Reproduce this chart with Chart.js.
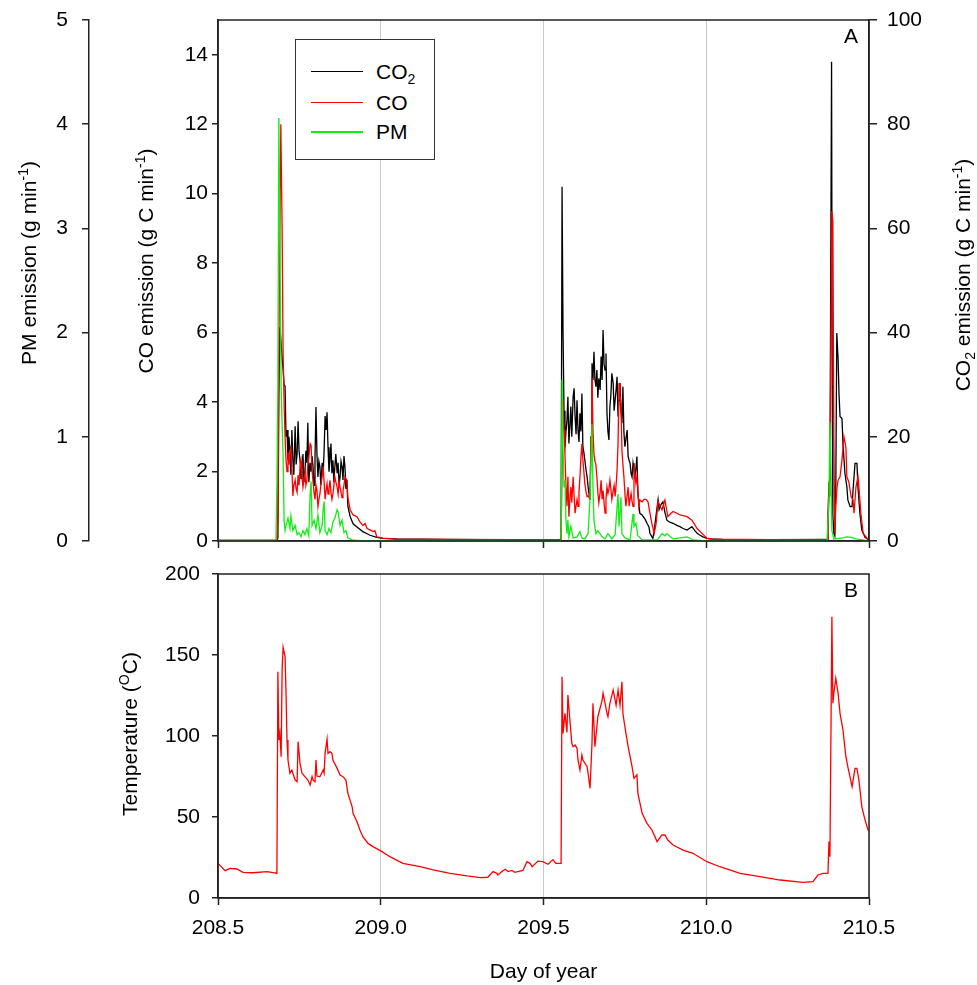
<!DOCTYPE html>
<html>
<head>
<meta charset="utf-8">
<script src="https://cdn.jsdelivr.net/npm/chart.js@4.4.1/dist/chart.umd.min.js"></script>
<style>
  html, body { margin: 0; padding: 0; background: #fff; }
  #wrap { position: relative; width: 977px; height: 985px; font-family: "Liberation Sans", Arial, sans-serif; }
  #top { position: absolute; left: 0; top: 0; }
  #bottom { position: absolute; left: 0; top: 560px; }
  #legend { position: absolute; left: 295px; top: 39px; width: 138px; height: 119px; border: 1.5px solid #333; background: #fff; }
  #legend .row { position: absolute; left: 0; right: 0; height: 0; }
  #legend .swatch { position: absolute; left: 15px; width: 52px; }
  #legend .name { position: absolute; left: 80px; top: -13px; font-size: 21px; line-height: 26px; color: #000; white-space: nowrap; }
  #legend sub { font-size: 14px; vertical-align: -5px; line-height: 0; }
</style>
</head>
<body>
<div id="wrap">
  <canvas id="top" width="977" height="560"></canvas>
  <canvas id="bottom" width="977" height="425"></canvas>
  <div id="legend"></div>
</div>
<script>
// tick values
const dayTicks = [208.5, 209.0, 209.5, 210.0, 210.5];
const pmTicks = [0, 1, 2, 3, 4, 5];
const coTicks = [0, 2, 4, 6, 8, 10, 12, 14];
const co2Ticks = [0, 20, 40, 60, 80, 100];
const tempTicks = [0, 50, 100, 150, 200];

const seriesNames = ['CO2', 'CO', 'PM'];

// [day of year, CO2 emission g C/min]
const co2Points = [
  [208.500,0.1],[208.600,0.1],[208.681,0.1],[208.684,0.6],[208.687,28],[208.690,41],[208.694,38],[208.697,35],
  [208.700,33],[208.703,30],[208.706,29.7],[208.709,20],[208.712,21.3],[208.715,15.5],[208.718,20],[208.721,17.3],
  [208.724,12.7],[208.727,21.3],[208.730,15.5],[208.733,12.7],[208.737,22],[208.740,14.7],[208.743,16.7],[208.746,23],
  [208.749,17.3],[208.752,15.5],[208.755,12],[208.758,13.7],[208.761,16.7],[208.764,11.3],[208.767,13],[208.770,17.3],
  [208.773,15],[208.776,22.7],[208.779,11.3],[208.783,15],[208.786,13.3],[208.789,16.3],[208.792,14.3],[208.795,10.7],
  [208.798,16],[208.801,25.7],[208.804,16.7],[208.807,12.3],[208.810,15.3],[208.813,14.3],[208.816,10.7],[208.820,15],
  [208.823,13],[208.826,17.3],[208.829,24],[208.832,21.3],[208.835,24.7],[208.838,18],[208.841,13.3],[208.844,15.5],
  [208.847,18.7],[208.850,13],[208.853,15.5],[208.856,11.3],[208.859,14.3],[208.862,16.7],[208.866,13],[208.869,15],
  [208.872,10.7],[208.875,12.3],[208.878,15.3],[208.881,14.3],[208.884,11.7],[208.887,16.3],[208.890,14.3],[208.893,10],
  [208.896,11.7],[208.899,6.7],[208.906,4.7],[208.915,3.3],[208.927,2.7],[208.945,1.8],[208.967,1.1],[208.988,0.7],
  [209.007,0.5],[209.050,0.4],[209.200,0.3],[209.400,0.25],[209.554,0.3],
  [209.557,68],[209.560,40],[209.563,25],[209.566,18],[209.569,21],[209.572,23],[209.575,27.7],[209.578,18.7],
  [209.581,22],[209.584,25.8],[209.587,20],[209.591,27.7],[209.594,29.3],[209.597,23.9],[209.600,20.5],[209.603,27],
  [209.606,21.3],[209.609,19],[209.612,24.5],[209.615,21],[209.618,28.3],[209.621,18.1],[209.624,17],[209.627,15.5],
  [209.631,13.5],[209.634,12.3],[209.637,10.4],[209.640,9],[209.643,7.9],[209.646,20],[209.649,34.1],[209.652,30.9],
  [209.655,36.3],[209.658,31],[209.661,29.6],[209.664,32.8],[209.667,27.5],[209.670,31.2],[209.674,29],[209.677,35.4],
  [209.680,30.9],[209.683,40.5],[209.686,34],[209.689,32.8],[209.692,36],[209.695,24.5],[209.698,21],[209.701,19.4],
  [209.704,25.8],[209.707,28],[209.710,32.2],[209.714,30.3],[209.717,25],[209.720,27],[209.723,29],[209.726,31.5],
  [209.729,23.9],[209.732,27],[209.735,30.3],[209.738,25],[209.741,22.6],[209.744,29.6],[209.747,21],[209.750,18.1],
  [209.753,19.5],[209.757,21.3],[209.760,16.2],[209.763,15.5],[209.766,14.9],[209.769,13],[209.772,12.3],[209.775,14.9],
  [209.778,13.5],[209.781,12.3],[209.784,14],[209.787,16.2],[209.790,9.1],[209.793,7],[209.796,5.3],[209.803,5],
  [209.806,4.7],[209.812,4.2],[209.818,3.4],[209.824,2.7],[209.827,1.5],[209.833,0.8],[209.836,0.5],[209.840,2],
  [209.846,5],[209.852,7.9],[209.855,6],[209.861,7],[209.867,7.5],[209.873,5.5],[209.879,4],[209.888,3.6],
  [209.898,3.4],[209.910,3],[209.919,2.75],[209.929,2.4],[209.941,2.1],[209.950,2.5],[209.956,2.75],[209.965,2],
  [209.972,1.5],[209.981,1.1],[209.990,0.8],[210.002,0.5],[210.011,0.4],[210.050,0.3],[210.200,0.25],[210.371,0.3],
  [210.374,5],[210.377,11],[210.380,12],[210.383,60],[210.385,92],[210.387,30],[210.389,5],[210.392,1.5],
  [210.395,1],[210.398,10],[210.401,39.9],[210.405,35],[210.408,28],[210.411,23.9],[210.417,23.5],[210.420,18.7],
  [210.426,13],[210.432,10.4],[210.435,7.9],[210.442,6.6],[210.448,6.6],[210.451,9.8],[210.457,14.9],[210.463,14.9],
  [210.466,10.4],[210.472,5.3],[210.478,2.1],[210.488,0.7],[210.497,0.3],[210.500,0.3]
];

// [day of year, CO emission g C/min]
const coPoints = [
  [208.500,0.02],[208.681,0.02],[208.684,0.8],[208.687,5.5],[208.693,12.0],[208.697,9.0],[208.700,5.4],[208.703,4.0],
  [208.706,3.0],[208.709,2.33],[208.712,2.0],[208.715,2.55],[208.718,2.2],[208.721,2.5],[208.724,2.75],[208.727,2.1],
  [208.730,1.3],[208.733,1.6],[208.737,1.75],[208.740,1.5],[208.743,1.4],[208.746,1.9],[208.749,1.6],[208.752,2.1],
  [208.755,2.3],[208.758,1.85],[208.761,1.55],[208.764,1.75],[208.767,1.95],[208.770,1.6],[208.773,1.75],[208.776,2.2],
  [208.779,2.4],[208.783,2.8],[208.786,2.75],[208.789,2.05],[208.792,1.7],[208.795,1.4],[208.798,1.2],[208.801,1.6],
  [208.804,1.45],[208.807,1.0],[208.810,1.2],[208.813,1.35],[208.816,1.6],[208.820,1.85],[208.823,2.15],[208.826,1.7],
  [208.829,1.2],[208.832,1.45],[208.835,1.65],[208.838,1.35],[208.841,1.5],[208.844,1.75],[208.847,1.4],[208.850,1.2],
  [208.853,1.35],[208.856,1.6],[208.859,1.85],[208.862,1.7],[208.866,1.55],[208.869,1.35],[208.872,1.7],[208.875,1.55],
  [208.878,1.4],[208.881,1.25],[208.884,1.45],[208.887,1.6],[208.890,1.85],[208.896,1.75],[208.899,1.25],[208.906,0.9],
  [208.915,0.75],[208.927,0.7],[208.936,0.55],[208.945,0.45],[208.952,0.5],[208.958,0.36],[208.967,0.32],[208.976,0.27],
  [208.982,0.3],[208.988,0.12],[209.007,0.08],[209.050,0.05],[209.300,0.04],[209.551,0.04],
  [209.554,0.1],[209.557,2],[209.560,4.06],[209.563,3.2],[209.566,2.5],[209.569,1.6],[209.572,1.0],[209.575,1.85],
  [209.578,0.7],[209.581,1.2],[209.584,1.55],[209.587,1.1],[209.591,1.85],[209.594,1.3],[209.597,0.8],[209.600,1.0],
  [209.603,1.2],[209.606,1.0],[209.609,1.4],[209.612,1.85],[209.615,2.4],[209.618,2.8],[209.621,2.33],[209.624,2.0],
  [209.627,1.65],[209.631,1.4],[209.634,1.28],[209.637,1.3],[209.640,1.25],[209.643,1.37],[209.646,3.0],[209.649,4.7],
  [209.652,3.2],[209.655,2.5],[209.658,2.3],[209.661,2.2],[209.664,1.85],[209.667,1.4],[209.670,1.1],[209.674,1.4],
  [209.677,1.75],[209.680,1.2],[209.683,1.45],[209.686,1.1],[209.689,0.8],[209.692,1.2],[209.695,1.55],[209.698,1.37],
  [209.701,1.5],[209.704,1.75],[209.707,1.5],[209.710,1.2],[209.714,1.45],[209.717,1.6],[209.720,1.28],[209.723,1.6],
  [209.726,2.05],[209.729,2.8],[209.732,4.55],[209.735,4.2],[209.738,3.95],[209.741,2.6],[209.744,2.2],[209.747,1.85],
  [209.750,1.4],[209.753,1.0],[209.757,1.3],[209.760,1.55],[209.763,1.0],[209.766,1.2],[209.769,1.37],[209.772,1.15],
  [209.775,1.0],[209.778,2.2],[209.781,1.9],[209.784,1.65],[209.787,1.85],[209.790,1.5],[209.793,1.0],[209.796,1.18],
  [209.803,1.13],[209.809,1.2],[209.815,1.2],[209.821,1.13],[209.827,0.8],[209.833,0.5],[209.840,0.22],[209.846,0.5],
  [209.852,1.15],[209.858,1.0],[209.864,0.9],[209.873,1.18],[209.882,0.7],[209.892,0.8],[209.898,0.85],[209.910,0.8],
  [209.919,0.75],[209.932,0.72],[209.941,0.7],[209.956,0.6],[209.972,0.36],[209.990,0.19],[210.002,0.08],[210.021,0.05],
  [210.200,0.04],[210.371,0.04],[210.374,0.5],[210.377,1.28],[210.380,1.3],[210.383,6],[210.386,9.5],[210.389,9.2],
  [210.392,3],[210.395,0.22],[210.398,1.0],[210.402,1.56],[210.405,1.75],[210.411,1.85],[210.417,2.33],[210.423,3.0],
  [210.429,2.7],[210.432,1.85],[210.438,1.7],[210.445,1.28],[210.451,1.18],[210.454,0.8],[210.460,1.56],[210.466,1.85],
  [210.469,1.56],[210.475,0.8],[210.482,0.22],[210.494,0.08],[210.500,0.05]
];

// [day of year, PM emission g/min]
const pmPoints = [
  [208.500,0],[208.678,0],[208.681,0.57],[208.684,1.5],[208.687,4.06],[208.690,3.0],[208.694,1.48],[208.697,1.1],
  [208.700,0.84],[208.703,0.2],[208.706,0.1],[208.709,0.15],[208.715,0.22],[208.721,0.12],[208.724,0.24],[208.730,0.1],
  [208.737,0.15],[208.743,0.06],[208.749,0.08],[208.755,0.04],[208.761,0.1],[208.767,0.06],[208.773,0.12],[208.779,0.05],
  [208.783,0.45],[208.786,0.57],[208.789,0.15],[208.795,0.2],[208.801,0.12],[208.807,0.25],[208.813,0.08],[208.820,0.15],
  [208.823,0.3],[208.826,0.38],[208.829,0.1],[208.835,0.06],[208.841,0.12],[208.847,0.08],[208.853,0.18],[208.859,0.22],
  [208.866,0.3],[208.869,0.28],[208.875,0.15],[208.881,0.2],[208.887,0.08],[208.893,0.1],[208.899,0.03],[208.912,0.01],
  [208.950,0],[209.554,0],[209.557,1.55],[209.560,0.9],[209.563,0.52],[209.566,0.58],[209.569,0.2],[209.572,0.07],
  [209.575,0.2],[209.578,0.04],[209.584,0.14],[209.591,0.03],[209.603,0.04],[209.612,0.09],[209.618,0.03],[209.627,0.02],
  [209.637,0.07],[209.643,0.42],[209.649,1.12],[209.652,0.52],[209.655,0.2],[209.661,0.07],[209.667,0.1],[209.680,0.04],
  [209.689,0.02],[209.698,0.07],[209.710,0.02],[209.720,0.06],[209.726,0.33],[209.729,0.45],[209.732,0.14],[209.738,0.42],
  [209.741,0.07],[209.750,0.03],[209.766,0.01],[209.775,0.26],[209.778,0.14],[209.784,0.17],[209.790,0.05],[209.803,0.01],
  [209.850,0.01],[209.864,0.07],[209.873,0.05],[209.879,0.07],[209.898,0.02],[209.941,0.04],[209.960,0.01],[210.000,0],
  [210.371,0],[210.377,0.4],[210.380,1.14],[210.383,0.7],[210.386,0.1],[210.392,0.02],[210.420,0.03],[210.432,0.04],
  [210.445,0.035],[210.460,0.02],[210.480,0.01],[210.500,0]
];

// [day of year, temperature degC]
const tempPoints = [
  [208.500,21.4],[208.503,21.4],[208.522,16.9],[208.537,18.3],[208.558,17.9],[208.577,15.8],[208.608,15.6],[208.651,16.3],
  [208.678,15.4],[208.681,15.2],[208.684,139.7],[208.687,97.5],[208.690,101.6],[208.694,87.2],[208.697,140.7],[208.700,154.7],
  [208.706,149],[208.709,126.4],[208.712,97.5],[208.715,85.2],[208.721,77],[208.727,79],[208.730,77],[208.737,72.8],
  [208.743,71.8],[208.746,96.5],[208.752,83.1],[208.758,77],[208.767,74.9],[208.776,72.8],[208.783,69.8],[208.789,74.9],
  [208.792,72.8],[208.798,71.8],[208.801,85.2],[208.804,75.3],[208.813,74.9],[208.823,79],[208.826,77],[208.829,89.3],
  [208.835,98.1],[208.838,89.3],[208.844,90.3],[208.850,89.3],[208.853,85.2],[208.866,80],[208.875,75.9],[208.884,74.9],
  [208.893,72.8],[208.899,64.6],[208.912,56.4],[208.915,52.3],[208.927,47.1],[208.936,42],[208.945,37.8],[208.961,33.7],
  [208.976,31.7],[209.004,28.6],[209.028,25.5],[209.068,21.4],[209.121,19.3],[209.161,17.3],[209.213,15.2],[209.265,13.6],
  [209.305,12.6],[209.329,12.8],[209.345,16.3],[209.357,15.2],[209.360,14.2],[209.372,16.3],[209.382,17.7],[209.391,16.3],
  [209.403,17],[209.412,15.8],[209.437,17],[209.449,22.4],[209.459,21.4],[209.465,19.3],[209.483,22.8],[209.498,22.4],
  [209.514,20.8],[209.529,23.7],[209.538,21.4],[209.554,21.4],[209.557,136.6],[209.560,101.6],[209.566,114],[209.572,102.2],
  [209.575,125.3],[209.581,110],[209.587,95.5],[209.591,93.4],[209.597,94.4],[209.603,92.4],[209.606,85.2],[209.612,79],
  [209.618,88.3],[209.621,85.2],[209.634,81.1],[209.637,77],[209.643,67.7],[209.649,95.5],[209.652,120.2],[209.658,93.4],
  [209.667,111.9],[209.680,122],[209.683,126.4],[209.695,114],[209.698,111.9],[209.704,120.2],[209.714,128.4],[209.723,119],
  [209.729,128.4],[209.735,119],[209.741,133.5],[209.744,114],[209.750,105.7],[209.760,93.4],[209.772,81.1],[209.778,73.9],
  [209.787,76],[209.790,64.6],[209.803,52.3],[209.818,46.1],[209.833,42],[209.849,34.8],[209.864,38.9],[209.873,38.9],
  [209.882,35.8],[209.898,32.7],[209.929,29.6],[209.959,27.6],[210.002,22.4],[210.042,19.3],[210.104,15.2],[210.165,13.2],
  [210.227,11.1],[210.297,9.7],[210.328,10.1],[210.343,14.2],[210.359,15.2],[210.374,15.2],[210.377,34.8],[210.380,25.5],
  [210.386,173.6],[210.389,120.2],[210.392,126.4],[210.398,135.6],[210.405,126.4],[210.411,114],[210.420,103.7],[210.429,87.2],
  [210.435,81],[210.448,68.7],[210.457,80],[210.463,80],[210.469,72.8],[210.478,56.3],[210.488,48.1],[210.497,42],
  [210.500,41.5]
];

const FONT = '"Liberation Sans", Arial, Helvetica, sans-serif';
Chart.defaults.font.family = FONT;
Chart.defaults.color = '#000';

const colors = { CO2: '#000000', CO: '#ff0000', PM: '#11ee11' };
const pts = list => list.map(([x, y]) => ({ x, y }));

// rotated axis title with sub/superscripts
function drawRich(ctx, parts, x, y) {
  const big = '21px ' + FONT, small = '14px ' + FONT;
  ctx.save();
  ctx.translate(x, y);
  ctx.rotate(-Math.PI / 2);
  let w = 0;
  parts.forEach(p => { ctx.font = p.s ? small : big; w += ctx.measureText(p.t).width; });
  let cx = -w / 2;
  ctx.textAlign = 'left';
  ctx.textBaseline = 'alphabetic';
  ctx.fillStyle = '#000';
  parts.forEach(p => {
    ctx.font = p.s ? small : big;
    const dy = p.s === 'sup' ? -8 : p.s === 'sub' ? 5 : 0;
    ctx.fillText(p.t, cx, 7.5 + dy);
    cx += ctx.measureText(p.t).width;
  });
  ctx.restore();
}

const framePlugin = {
  id: 'frame',
  afterDraw(chart, args, opts) {
    const { ctx, chartArea: a } = chart;
    ctx.save();
    ctx.strokeStyle = '#222';
    ctx.lineWidth = 1.5;
    ctx.strokeRect(a.left, a.top, a.right - a.left, a.bottom - a.top);
    ctx.fillStyle = '#000';
    ctx.font = '21px ' + FONT;
    ctx.textAlign = 'center';
    ctx.textBaseline = 'middle';
    ctx.fillText(opts.panel, a.right - 18, a.top + 17);
    ctx.restore();
    (opts.titles || []).forEach(t => drawRich(ctx, t.parts, t.x, t.y));
  }
};

function yAxis(position, tickList, max, tickLen, pad, width, weight) {
  return {
    type: 'linear', position, min: 0, max, weight,
    afterBuildTicks: axis => { axis.ticks = tickList.map(v => ({ value: v })); },
    afterFit: axis => { axis.width = width; axis.paddingTop = 0; axis.paddingBottom = 0; },
    ticks: { font: { size: 21 }, color: '#000', padding: pad },
    grid: { drawOnChartArea: false, tickLength: tickLen, color: '#222', lineWidth: 1.5 },
    border: { display: true, color: '#222', width: 1.5 }
  };
}

function xAxis(showLabels, height) {
  return {
    type: 'linear', min: 208.5, max: 210.5,
    afterBuildTicks: axis => { axis.ticks = dayTicks.map(v => ({ value: v })); },
    afterFit: axis => { axis.height = height; axis.paddingLeft = 0; axis.paddingRight = 0; },
    ticks: { display: showLabels, font: { size: 21 }, color: '#000', padding: 11, maxRotation: 0, autoSkip: false,
             callback: v => Number(v).toFixed(1) },
    grid: { color: '#c8c8c8', lineWidth: 1, tickColor: '#222', tickLength: 7, tickWidth: 1.5 },
    border: { display: true, color: '#222', width: 1.5 },
    title: { display: showLabels, text: 'Day of year', font: { size: 21 }, padding: 0 }
  };
}

const lineStyle = { pointRadius: 0, tension: 0, borderWidth: 1.3, fill: false };

// Panel A: emissions
new Chart(document.getElementById('top'), {
  type: 'line',
  data: {
    datasets: [
      { label: 'PM', data: pts(pmPoints), yAxisID: 'pm', borderColor: colors.PM, order: 0, ...lineStyle },
      { label: 'CO', data: pts(coPoints), yAxisID: 'co', borderColor: colors.CO, order: 1, ...lineStyle },
      { label: 'CO2', data: pts(co2Points), yAxisID: 'co2', borderColor: colors.CO2, order: 2, ...lineStyle }
    ]
  },
  options: {
    responsive: false,
    animation: false,
    events: [],
    layout: { padding: { top: 20, left: 0, right: 0, bottom: 0 } },
    plugins: {
      legend: { display: false },
      tooltip: { enabled: false },
      frame: {
        panel: 'A',
        titles: [
          { parts: [{ t: 'PM emission (g min' }, { t: '-1', s: 'sup' }, { t: ')' }], x: 28, y: 263 },
          { parts: [{ t: 'CO emission (g C min' }, { t: '-1', s: 'sup' }, { t: ')' }], x: 145, y: 261 },
          { parts: [{ t: 'CO' }, { t: '2', s: 'sub' }, { t: ' emission (g C min' }, { t: '-1', s: 'sup' }, { t: ')' }], x: 962, y: 275 }
        ]
      }
    },
    scales: {
      pm: yAxis('left', pmTicks, 5, 7, 14, 89, 1),
      co: yAxis('left', coTicks, 15, 6, 4, 129, 0),
      co2: yAxis('right', co2Ticks, 100, 8, 10, 108, 0),
      x: xAxis(false, 19)
    }
  },
  plugins: [framePlugin]
});

// Panel B: temperature
new Chart(document.getElementById('bottom'), {
  type: 'line',
  data: {
    datasets: [
      { label: 'Temperature', data: pts(tempPoints), yAxisID: 'temp', borderColor: '#ff0000', ...lineStyle }
    ]
  },
  options: {
    responsive: false,
    animation: false,
    events: [],
    layout: { padding: { top: 14, left: 0, right: 108, bottom: 0 } },
    plugins: {
      legend: { display: false },
      tooltip: { enabled: false },
      frame: {
        panel: 'B',
        titles: [
          { parts: [{ t: 'Temperature (' }, { t: 'O', s: 'sup' }, { t: 'C)' }], x: 129, y: 174 }
        ]
      }
    },
    scales: {
      temp: yAxis('left', tempTicks, 200, 6, 12, 218, 0),
      x: xAxis(true, 87)
    }
  },
  plugins: [framePlugin]
});

// legend box
const legend = document.getElementById('legend');
const rowTops = [31.5, 62.5, 91.5];
seriesNames.forEach((name, i) => {
  const row = document.createElement('div');
  row.className = 'row';
  row.style.top = rowTops[i] + 'px';
  const sw = document.createElement('div');
  sw.className = 'swatch';
  const h = name === 'PM' ? 2 : 1.5;
  sw.style.height = h + 'px';
  sw.style.top = (-h / 2) + 'px';
  sw.style.background = colors[name];
  const label = document.createElement('div');
  label.className = 'name';
  label.innerHTML = name.replace('2', '<sub>2</sub>');
  row.appendChild(sw);
  row.appendChild(label);
  legend.appendChild(row);
});
</script>
</body>
</html>
